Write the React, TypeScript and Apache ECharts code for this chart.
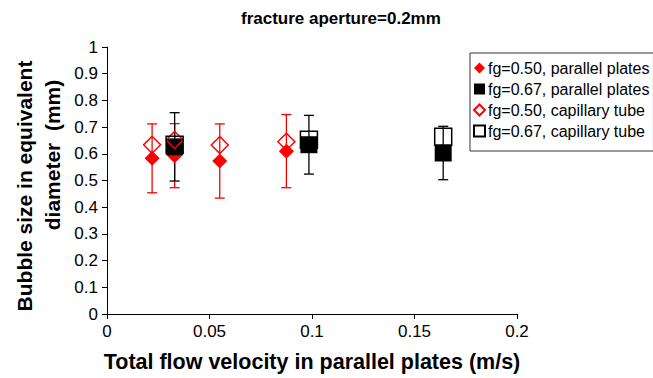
import React, { useEffect, useRef } from "react";
import * as echarts from "echarts";

// Bubble size vs. total flow velocity, fracture aperture = 0.2 mm
const velocityPlatesFg50 = [0.022, 0.033, 0.055, 0.0875];
const bubblePlatesFg50 = [0.583, 0.593, 0.573, 0.61];
const errorPlatesFg50 = [0.129, 0.12, 0.139, 0.137];

const velocityPlatesFg67 = [0.033, 0.0985, 0.164];
const bubblePlatesFg67 = [0.626, 0.634, 0.603];
const errorPlatesFg67 = [0.128, 0.11, 0.1];

const velocityTubeFg50 = [0.022, 0.033, 0.055, 0.0875];
const bubbleTubeFg50 = [0.634, 0.652, 0.633, 0.645];

const velocityTubeFg67 = [0.033, 0.0985, 0.164];
const bubbleTubeFg67 = [0.634, 0.653, 0.664];

const legendNames = [
  "fg=0.50, parallel plates",
  "fg=0.67, parallel plates",
  "fg=0.50, capillary tube",
  "fg=0.67, capillary tube",
];

const FONT = "'Liberation Sans', Arial, Helvetica, sans-serif";
const RED = "#ff0000";
const BLACK = "#000000";

const pairs = (xs: number[], ys: number[]) => xs.map((x, i) => [x, ys[i]]);
const triples = (xs: number[], ys: number[], es: number[]) =>
  xs.map((x, i) => [x, ys[i], es[i]]);

// Vertical error bar with short caps, placed through the axis scales
const errorBar = (color: string) => (params: any, api: any) => {
  const x = api.value(0);
  const y = api.value(1);
  const e = api.value(2);
  const top = api.coord([x, y + e]);
  const bot = api.coord([x, y - e]);
  const cap = 5;
  const style = { stroke: color, lineWidth: 1.3 };
  return {
    type: "group",
    children: [
      { type: "line", shape: { x1: top[0], y1: top[1], x2: bot[0], y2: bot[1] }, style },
      { type: "line", shape: { x1: top[0] - cap, y1: top[1], x2: top[0] + cap, y2: top[1] }, style },
      { type: "line", shape: { x1: bot[0] - cap, y1: bot[1], x2: bot[0] + cap, y2: bot[1] }, style },
    ],
  };
};

export default function App() {
  const ref = useRef<HTMLDivElement>(null);

  useEffect(() => {
    if (!ref.current) return;
    const chart = echarts.init(ref.current, null, { renderer: "svg" });
    chart.setOption({
      animation: false,
      backgroundColor: "#ffffff",
      textStyle: { fontFamily: FONT },
      title: {
        text: "fracture aperture=0.2mm",
        left: 241,
        top: 10,
        padding: 0,
        textStyle: { fontFamily: FONT, fontSize: 17, fontWeight: "bold", color: "#000" },
      },
      legend: {
        data: legendNames,
        orient: "vertical",
        left: 470,
        top: 53,
        padding: [7, 4, 12, 3],
        itemGap: 5,
        itemWidth: 11,
        itemHeight: 11,
        borderColor: "#333",
        borderWidth: 1,
        backgroundColor: "#fff",
        textStyle: { fontFamily: FONT, fontSize: 16, color: "#000", padding: [0, 0, 0, -2] },
      },
      grid: { left: 107, right: 136, top: 47, bottom: 59 },
      xAxis: {
        type: "value",
        min: 0,
        max: 0.2,
        interval: 0.05,
        name: "Total flow velocity in parallel plates (m/s)",
        nameLocation: "middle",
        nameGap: 37,
        nameTextStyle: { fontFamily: FONT, fontSize: 21.5, fontWeight: "bold", color: "#000" },
        axisLine: { lineStyle: { color: BLACK, width: 1 } },
        axisTick: { show: true, length: 5, lineStyle: { color: BLACK } },
        axisLabel: { fontFamily: FONT, fontSize: 17, color: "#000", margin: 9 },
        splitLine: { show: false },
      },
      yAxis: {
        type: "value",
        min: 0,
        max: 1,
        interval: 0.1,
        axisLine: { show: true, lineStyle: { color: BLACK, width: 1 } },
        axisTick: { show: true, length: 5, lineStyle: { color: BLACK } },
        axisLabel: { fontFamily: FONT, fontSize: 17, color: "#000", margin: 9 },
        splitLine: { show: false },
      },
      graphic: [
        {
          type: "text",
          x: 24,
          y: 186,
          rotation: Math.PI / 2,
          style: {
            text: "Bubble size in equivalent",
            font: `bold 21px ${FONT}`,
            fill: "#000",
            textAlign: "center",
            textVerticalAlign: "middle",
          },
        },
        {
          type: "text",
          x: 52,
          y: 155,
          rotation: Math.PI / 2,
          style: {
            text: "diameter  (mm)",
            font: `bold 21px ${FONT}`,
            fill: "#000",
            textAlign: "center",
            textVerticalAlign: "middle",
          },
        },
      ],
      series: [
        {
          type: "custom",
          name: "err-plates-50",
          renderItem: errorBar(RED),
          data: triples(velocityPlatesFg50, bubblePlatesFg50, errorPlatesFg50),
          silent: true,
        },
        {
          type: "scatter",
          name: legendNames[0],
          symbol: "diamond",
          symbolSize: [15, 15],
          itemStyle: { color: RED, opacity: 1 },
          data: pairs(velocityPlatesFg50, bubblePlatesFg50),
        },
        {
          type: "custom",
          name: "err-plates-67",
          renderItem: errorBar(BLACK),
          data: triples(velocityPlatesFg67, bubblePlatesFg67, errorPlatesFg67),
          silent: true,
        },
        {
          type: "scatter",
          name: legendNames[1],
          symbol: "rect",
          symbolSize: [17, 17],
          itemStyle: { color: BLACK, opacity: 1 },
          data: pairs(velocityPlatesFg67, bubblePlatesFg67),
        },
        {
          type: "scatter",
          name: legendNames[2],
          symbol: "diamond",
          symbolSize: [17, 17],
          itemStyle: { color: "rgba(255,255,255,0)", borderColor: RED, borderWidth: 1.5, opacity: 1 },
          data: pairs(velocityTubeFg50, bubbleTubeFg50),
        },
        {
          type: "scatter",
          name: legendNames[3],
          symbol: "rect",
          symbolSize: [17, 17],
          itemStyle: { color: "rgba(255,255,255,0)", borderColor: BLACK, borderWidth: 1.5, opacity: 1 },
          data: pairs(velocityTubeFg67, bubbleTubeFg67),
        },
      ],
    });
    return () => chart.dispose();
  }, []);

  return (
    <div
      ref={ref}
      style={{ position: "fixed", left: 0, top: 0, width: 653, height: 378 }}
    />
  );
}
